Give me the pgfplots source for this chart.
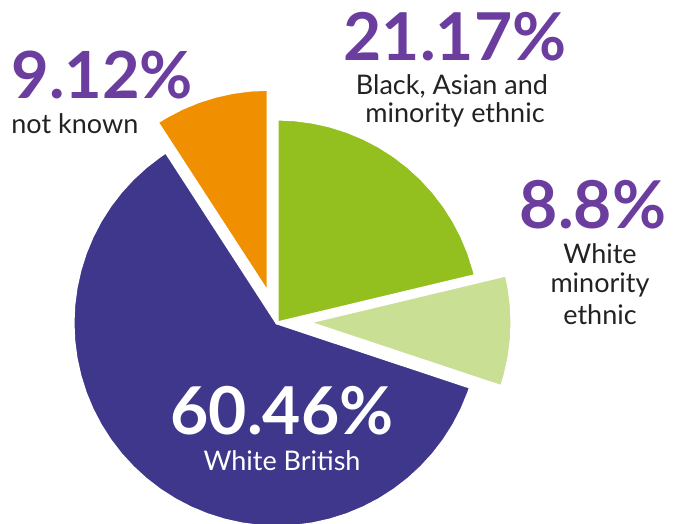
\documentclass[border=0pt]{standalone}
\usepackage{pgfplots}
\pgfplotsset{compat=1.18}
\usepackage{fontspec}
\setmainfont{Lato}
\definecolor{piepurple}{RGB}{62,55,139}
\definecolor{piegreen}{RGB}{147,192,31}
\definecolor{pielight}{RGB}{201,223,148}
\definecolor{pieorange}{RGB}{240,144,0}
\definecolor{numpurple}{RGB}{106,61,158}
\definecolor{txt}{RGB}{34,34,34}
\begin{document}
\begin{tikzpicture}
\useasboundingbox (0,0) rectangle (340pt,262pt);
\clip (0,0) rectangle (340pt,262pt);
\begin{axis}[x=0.5pt,y=0.5pt,xmin=-277,xmax=403,ymin=-201,ymax=323,
  hide axis,scale only axis,clip=true,anchor=south west,at={(0,0)}]
% White British 60.46%
\addplot[fill=piepurple,draw=white,line width=1.5pt,line join=round,data cs=polar] coordinates {
(0,0) (122.98,204) (125,204) (130,204) (135,204) (140,204) (145,204) (150,204) (155,204) (160,204)
(165,204) (170,204) (175,204) (180,204) (185,204) (190,204) (195,204) (200,204) (205,204) (210,204)
(215,204) (220,204) (225,204) (230,204) (235,204) (240,204) (245,204) (250,204) (255,204) (260,204)
(265,204) (270,204) (275,204) (280,204) (285,204) (290,204) (295,204) (300,204) (305,204) (310,204)
(315,204) (320,204) (325,204) (330,204) (335,204) (340,204) (341.63,204)} -- cycle;
% Black, Asian and minority ethnic 21.17%
\addplot[fill=piegreen,draw=white,line width=1.5pt,line join=round,data cs=polar] coordinates {
(0,0) (13.45,204) (15,204) (20,204) (25,204) (30,204) (35,204) (40,204) (45,204) (50,204)
(55,204) (60,204) (65,204) (70,204) (75,204) (80,204) (85,204) (90,204)} -- cycle;
% White minority ethnic 8.8%
\addplot[fill=pielight,draw=white,line width=1.5pt,line join=round,data cs=polar,xshift=15.5pt,yshift=0.3pt] coordinates {
(0,0) (-18.37,204) (-15,204) (-10,204) (-5,204) (0,204) (5,204) (10,204) (13.45,204)} -- cycle;
% not known 9.12%
\addplot[fill=pieorange,draw=white,line width=1.5pt,line join=round,data cs=polar,xshift=-4.4pt,yshift=14.85pt] coordinates {
(0,0) (90,204) (95,204) (100,204) (105,204) (110,204) (115,204) (120,204) (122.98,204)} -- cycle;
% labels
\node[anchor=base west,inner sep=0pt,text=numpurple,font=\fontsize{32.5}{34}\selectfont\bfseries] at (axis cs:-266,224) {9.12\%};
\node[anchor=base west,inner sep=0pt,text=txt,font=\fontsize{13.5}{15}\selectfont] at (axis cs:-266,189) {not known};
\node[anchor=base,inner sep=0pt,text=numpurple,font=\fontsize{33}{34}\selectfont\bfseries] at (axis cs:178,262) {21.17\%};
\node[anchor=base,inner sep=0pt,text=txt,font=\fontsize{13.5}{15}\selectfont] at (axis cs:175,228) {Black, Asian and};
\node[anchor=base,inner sep=0pt,text=txt,font=\fontsize{13.5}{15}\selectfont] at (axis cs:178,200) {minority ethnic};
\node[anchor=base,inner sep=0pt,text=numpurple,font=\fontsize{33}{34}\selectfont\bfseries] at (axis cs:316,94) {8.8\%};
\node[anchor=base,inner sep=0pt,text=txt,font=\fontsize{13.5}{15}\selectfont] at (axis cs:323,59) {White};
\node[anchor=base,inner sep=0pt,text=txt,font=\fontsize{13.5}{15}\selectfont] at (axis cs:323,30) {minority};
\node[anchor=base,inner sep=0pt,text=txt,font=\fontsize{13.5}{15}\selectfont] at (axis cs:323,-2) {ethnic};
\node[anchor=base,inner sep=0pt,text=white,font=\fontsize{33}{34}\selectfont\bfseries] at (axis cs:5,-112) {60.46\%};
\node[anchor=base,inner sep=0pt,text=white,font=\fontsize{13.5}{15}\selectfont] at (axis cs:5,-148) {White British};
\end{axis}
\end{tikzpicture}
\end{document}
